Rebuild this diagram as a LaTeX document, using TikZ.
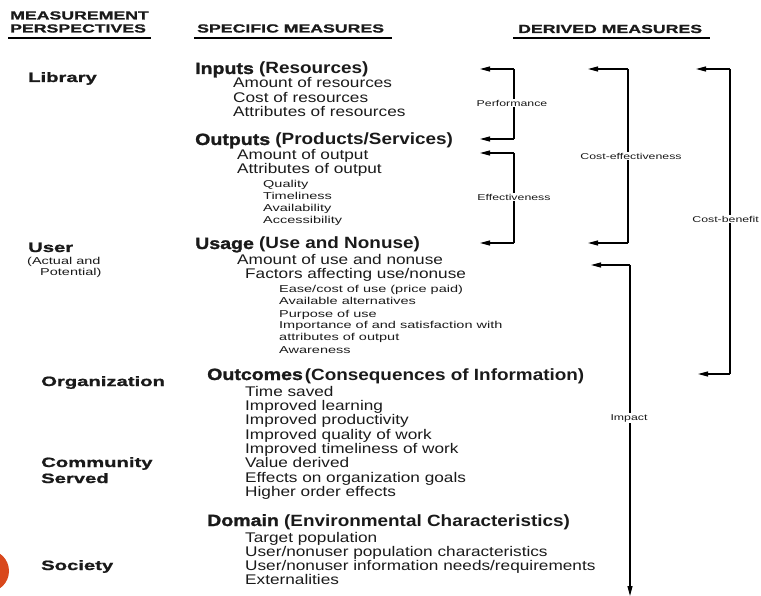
\documentclass[tikz,border=0pt]{standalone}
\usepackage{fontspec}
\setmainfont{Liberation Sans}
\newfontfamily\itemf{Liberation Sans}[FakeStretch=1.23]
\newfontfamily\subf{Liberation Sans}[FakeStretch=1.45]
\newfontfamily\bdf{Liberation Sans}[FakeStretch=1.16]
\newfontfamily\hvf{Liberation Sans}[FakeStretch=1.2,BoldFeatures={FakeBold=1.5}]
\newfontfamily\hdf{Liberation Sans}[FakeStretch=1.5,BoldFeatures={FakeBold=1.2}]
\usetikzlibrary{arrows.meta}
\definecolor{txt}{HTML}{1A1A1A}
\definecolor{orng}{HTML}{D9481C}
\tikzset{
  every node/.style={inner sep=0pt, text=txt},
  hdr/.style={anchor=base west, font=\hdf\bfseries\fontsize{11.8}{13}\selectfont},
  persp/.style={anchor=base west, font=\hdf\bfseries\fontsize{13.5}{15}\selectfont},
  head/.style={anchor=base west, font=\bdf\bfseries\fontsize{16.3}{18}\selectfont},
  item/.style={anchor=base west, font=\itemf\fontsize{14}{16}\selectfont},
  sub/.style={anchor=base west, font=\subf\fontsize{10}{12}\selectfont},
  lbl/.style={fill=white, inner sep=1pt, font=\subf\fontsize{8.5}{10}\selectfont},
  uline/.style={line width=2pt},
  brk/.style={line width=1.1pt},
  arr/.style={line width=1.1pt, -{Triangle[length=10pt,width=5pt]}},
}
\newcommand{\hv}[1]{{\hvf\bfseries #1}}
\begin{document}
\begin{tikzpicture}[x=1pt,y=-1pt]
\useasboundingbox (0,0) rectangle (761,596);
\fill[orng] (-12,571) circle (21);

% headers
\node[hdr] (h1) at (10,19.5) {MEASUREMENT};
\node[hdr] (h2) at (10,32.5) {PERSPECTIVES};
\node[hdr] (h3) at (197,32.5) {SPECIFIC MEASURES};
\node[hdr] (h4) at (518,33) {DERIVED MEASURES};
\draw[uline] (8,38.5) -- (151,38.5);
\draw[uline] (194,38.5) -- (392,38.5);
\draw[uline] (513,38.5) -- (710,38.5);

% perspectives
\node[persp] (pLib) at (28,82) {Library};
\node[persp] (pUser) at (28,252) {User};
\node[sub] (pAct) at (27,265) {(Actual and};
\node[sub] (pPot) at (40,276) {Potential)};
\node[persp] (pOrg) at (41,386) {Organization};
\node[persp] (pCom) at (41,467) {Community};
\node[persp] (pSer) at (41,483) {Served};
\node[persp] (pSoc) at (41,570) {Society};

% inputs
\node[head] (inp) at (195,74) {\hv{Inputs} (Resources)};
\node[item] (i1) at (233,88) {Amount of resources};
\node[item] (i2) at (233,103) {Cost of resources};
\node[item] (i3) at (233,117) {Attributes of resources};

% outputs
\node[head] (out) at (195,145) {\hv{Outputs} (Products/Services)};
\node[item] (o1) at (237,160) {Amount of output};
\node[item] (o2) at (237,174) {Attributes of output};
\node[sub] (o3) at (263,187.5) {Quality};
\node[sub] (o4) at (263,199.5) {Timeliness};
\node[sub] (o5) at (263,211.5) {Availability};
\node[sub] (o6) at (263,223.5) {Accessibility};

% usage
\node[head] (use) at (195,249) {\hv{Usage} (Use and Nonuse)};
\node[item] (u1) at (237,265) {Amount of use and nonuse};
\node[item] (u2) at (245,279) {Factors affecting use/nonuse};
\node[sub] (u3) at (279,293) {Ease/cost of use (price paid)};
\node[sub] (u4) at (279,305) {Available alternatives};
\node[sub] (u5) at (279,317) {Purpose of use};
\node[sub] (u6) at (279,329) {Importance of and satisfaction with};
\node[sub] (u7) at (279,341) {attributes of output};
\node[sub] (u8) at (279,353) {Awareness};

% outcomes
\node[head] (oc) at (207,380) {\hv{Outcomes}\hspace{2pt}(Consequences of Information)};
\node[item] (c1) at (245,396) {Time saved};
\node[item] (c2) at (245,410) {Improved learning};
\node[item] (c3) at (245,424.5) {Improved productivity};
\node[item] (c4) at (245,439) {Improved quality of work};
\node[item] (c5) at (245,453) {Improved timeliness of work};
\node[item] (c6) at (245,467.5) {Value derived};
\node[item] (c7) at (245,482) {Effects on organization goals};
\node[item] (c8) at (245,496) {Higher order effects};

% domain
\node[head] (dom) at (207,526) {\hv{Domain} (Environmental Characteristics)};
\node[item] (d1) at (245,542) {Target population};
\node[item] (d2) at (245,556) {User/nonuser population characteristics};
\node[item] (d3) at (245,570.5) {User/nonuser information needs/requirements};
\node[item] (d4) at (245,584.5) {Externalities};

% bracket coordinates
\coordinate (pA) at (514,69);  \coordinate (pB) at (514,139);
\coordinate (pAt) at (480,69); \coordinate (pBt) at (480,139);
\coordinate (eA) at (514,153); \coordinate (eB) at (514,243);
\coordinate (eAt) at (480,153); \coordinate (eBt) at (480,243);
\coordinate (ceA) at (628,69); \coordinate (ceB) at (628,243);
\coordinate (ceAt) at (588,69); \coordinate (ceBt) at (588,243);
\coordinate (cbA) at (730,69); \coordinate (cbB) at (730,374);
\coordinate (cbAt) at (696,69); \coordinate (cbBt) at (698,374);
\coordinate (imA) at (630,265); \coordinate (imAt) at (591,265);
\coordinate (imB) at (630,596);

% brackets
\draw[brk] (pA) -- (pB);
\draw[arr] (pA) -- (pAt);
\draw[arr] (pB) -- (pBt);
\node[lbl] (lPerf) at (512,103) {Performance};

\draw[brk] (eA) -- (eB);
\draw[arr] (eA) -- (eAt);
\draw[arr] (eB) -- (eBt);
\node[lbl] (lEff) at (514,197) {Effectiveness};

\draw[brk] (ceA) -- (ceB);
\draw[arr] (ceA) -- (ceAt);
\draw[arr] (ceB) -- (ceBt);
\node[lbl] (lCE) at (631,156) {Cost-effectiveness};

\draw[brk] (cbA) -- (cbB);
\draw[arr] (cbA) -- (cbAt);
\draw[arr] (cbB) -- (cbBt);
\node[lbl, anchor=east] (lCB) at (760,219) {Cost-benefit};

\draw[arr] (imA) -- (imAt);
\draw[arr] (imA) -- (imB);
\node[lbl] (lIm) at (629,418) {Impact};
\end{tikzpicture}
\end{document}
